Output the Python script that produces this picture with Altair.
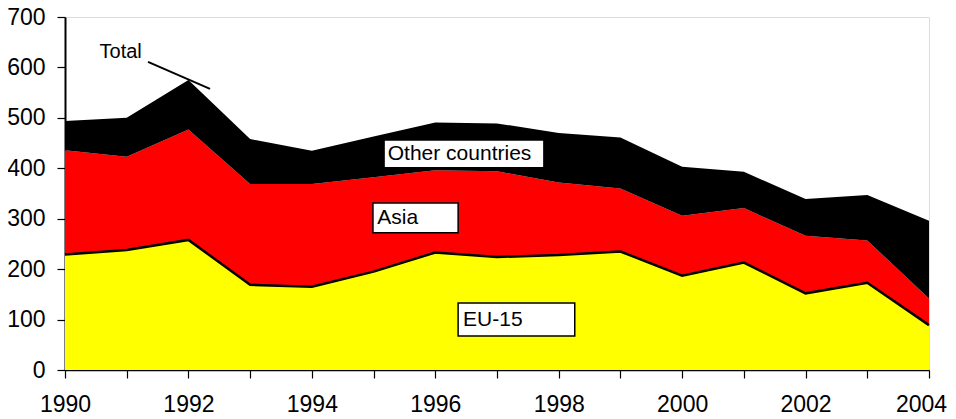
import altair as alt
import pandas as pd

years = list(range(1990, 2005))
eu15 = [229, 238, 258, 169, 165, 195, 233, 224, 228, 235, 187, 213, 152, 173, 89]
asia = [207, 185, 219, 200, 204, 187, 163, 170, 144, 125, 119, 108, 114, 84, 53]
other = [58, 77, 98, 89, 66, 81, 95, 95, 98, 101, 97, 72, 73, 90, 154]

series_names = ["EU-15", "Asia", "Other countries"]
series_colors = ["#FFFF00", "#FF0000", "#000000"]

# label boxes (data units)
box_text = ["Other countries", "Asia", "EU-15"]
box_x1 = [1995.17, 1994.99, 1996.37]
box_x2 = [1997.76, 1996.37, 1998.26]
box_y1 = [456, 331, 133]
box_y2 = [401, 272, 67.5]
box_tx = [1995.23, 1995.06, 1996.45]
box_ty = [428, 301, 100]

# "Total" annotation
total_tx = [1990.56]
total_ty = [630]
total_lx = [1991.345, 1992.35]
total_ly = [611, 557.5]

rows = []
for i, y in enumerate(years):
    for k, (name, vals) in enumerate(zip(series_names, [eu15, asia, other])):
        rows.append({"year": y, "series": name, "value": vals[i], "ord": k})
df = pd.DataFrame(rows)

FONT = "Liberation Sans"

xs = alt.Scale(domain=[1990, 2004], nice=False, zero=False)
ys = alt.Scale(domain=[0, 700], nice=False)

x_axis = alt.Axis(values=years, format="d", title=None, grid=False,
                  labelExpr="datum.value % 2 == 0 ? datum.label : ''",
                  labelFontSize=23, labelFont=FONT, labelColor="#000",
                  tickSize=8, tickColor="#000", tickWidth=1.2,
                  domainColor="#000", domainWidth=1.5, labelPadding=15,
                  labelOffset={"condition": {"test": "datum.value == 2004", "value": -8}, "value": 0},
                  labelFlush=False, labelOverlap=False)
y_axis = alt.Axis(values=list(range(0, 701, 100)), title=None, grid=False,
                  labelFontSize=23, labelFont=FONT, labelColor="#000",
                  tickSize=8, tickColor="#000", tickWidth=1.2,
                  domainColor="#000", domainWidth=2, labelPadding=12)

area = alt.Chart(df).mark_area(opacity=1, interpolate="linear").encode(
    x=alt.X("year:Q", scale=xs, axis=x_axis),
    y=alt.Y("value:Q", stack="zero", scale=ys, axis=y_axis),
    color=alt.Color("series:N", scale=alt.Scale(domain=series_names, range=series_colors), legend=None),
    order=alt.Order("ord:Q", sort="ascending"),
)

eu_df = pd.DataFrame({"year": years, "eu": eu15})
eu_line = alt.Chart(eu_df).mark_line(color="#000", strokeWidth=2.5).encode(
    x=alt.X("year:Q", scale=xs), y=alt.Y("eu:Q", scale=ys)
)

box_df = pd.DataFrame({"t": box_text, "x1": box_x1, "x2": box_x2, "y1": box_y1, "y2": box_y2,
                       "tx": box_tx, "ty": box_ty})
boxes = alt.Chart(box_df).mark_rect(fill="#FFFFFF", stroke="#000", strokeWidth=1.5).encode(
    x=alt.X("x1:Q", scale=xs), x2="x2:Q", y=alt.Y("y1:Q", scale=ys), y2="y2:Q"
)
box_texts = alt.Chart(box_df).mark_text(align="left", baseline="middle", fontSize=21, font=FONT, color="#000").encode(
    x=alt.X("tx:Q", scale=xs), y=alt.Y("ty:Q", scale=ys), text="t:N"
)

tot_df = pd.DataFrame({"x": total_tx, "y": total_ty, "t": ["Total"]})
tot_text = alt.Chart(tot_df).mark_text(align="left", baseline="middle", fontSize=20, font=FONT, color="#000").encode(
    x=alt.X("x:Q", scale=xs), y=alt.Y("y:Q", scale=ys), text="t:N"
)
tl_df = pd.DataFrame({"x": total_lx, "y": total_ly})
tot_line = alt.Chart(tl_df).mark_line(color="#000", strokeWidth=2, clip=False).encode(
    x=alt.X("x:Q", scale=xs), y=alt.Y("y:Q", scale=ys)
)

chart = alt.layer(area, eu_line, boxes, box_texts, tot_line, tot_text).properties(
    width=864, height=353,
    autosize=alt.AutoSizeParams(type="none"),
    padding={"left": 57, "top": 9, "right": 19, "bottom": 48},
).configure_view(stroke="#444", strokeWidth=1).configure(background="#FFFFFF")

chart.save("out.html", embed_options={"renderer": "svg", "actions": False})
